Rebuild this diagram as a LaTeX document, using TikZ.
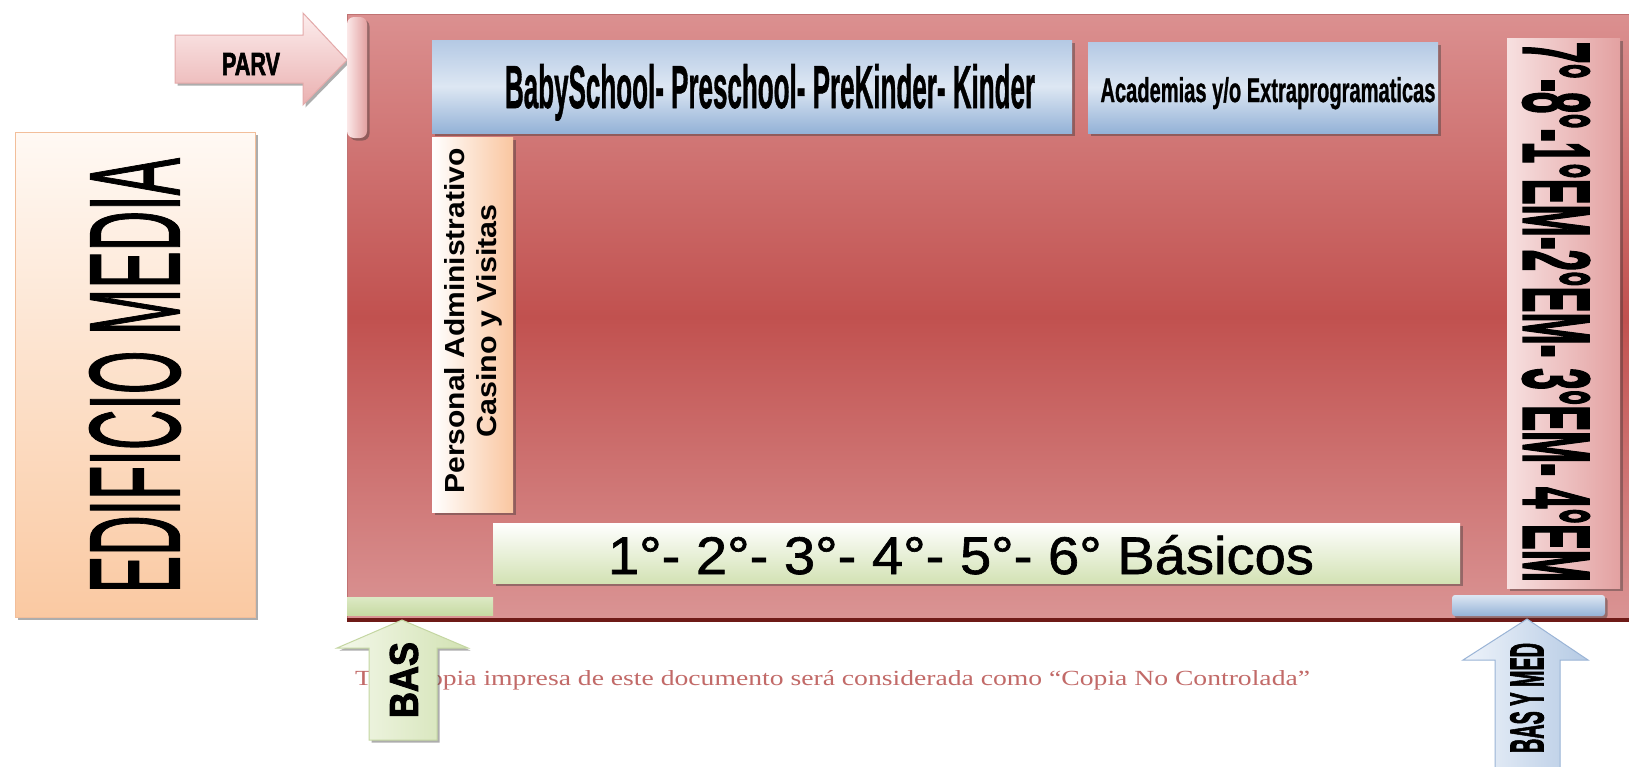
\documentclass[tikz,border=0pt]{standalone}
\usepackage{fontspec}
\setmainfont{Liberation Sans}
\newfontfamily\footserif{Liberation Serif}
\newfontfamily\heavy[FakeBold=2.5]{Liberation Sans Bold}
\newfontfamily\semib[FakeBold=1.2]{Liberation Sans Bold}
\newfontfamily\regb[FakeBold=1.2]{Liberation Sans}
\usepackage{graphicx}
\usetikzlibrary{shadows}
\newcommand{\fitt}[3]{\resizebox{#1pt}{#2pt}{#3}}
\definecolor{mtop}{HTML}{DB9090}
\definecolor{mmid}{HTML}{C1514F}
\definecolor{mbot}{HTML}{DA9494}
\definecolor{mrim}{HTML}{C07272}
\definecolor{dred}{HTML}{6E1A17}
\definecolor{peachl}{HTML}{FFF9F4}
\definecolor{peach}{HTML}{FAC9A2}
\definecolor{peache}{HTML}{F2BE9A}
\definecolor{peach2}{HTML}{FAC6A0}
\definecolor{pinkl}{HTML}{FCEDED}
\definecolor{pinkd}{HTML}{EAB0B0}
\definecolor{parvline}{HTML}{E4AAAA}
\definecolor{scrl}{HTML}{FBE8E8}
\definecolor{scrd}{HTML}{E2A0A0}
\definecolor{bluet}{HTML}{B4C9E4}
\definecolor{bluem}{HTML}{DDE7F3}
\definecolor{blueb}{HTML}{94B2D7}
\definecolor{greenb}{HTML}{D3E2B4}
\definecolor{rbl}{HTML}{F7E0E0}
\definecolor{rbd}{HTML}{E3A1A1}
\definecolor{gbarA}{HTML}{DCE9C5}
\definecolor{gbarB}{HTML}{C7DAA2}
\definecolor{footc}{HTML}{C26A68}
\definecolor{gl}{HTML}{F4F8EA}
\definecolor{gd}{HTML}{D2E2B3}
\definecolor{gline}{HTML}{C4D6A2}
\definecolor{bl}{HTML}{EEF3FA}
\definecolor{bd}{HTML}{B5CAE4}
\definecolor{bline}{HTML}{9AB4D6}
\begin{document}
\begin{tikzpicture}[x=1pt,y=-1pt,
  lbl/.style={inner sep=0pt, outer sep=0pt, text=black},
  boxshadow/.style={drop shadow={shadow xshift=2.5pt,shadow yshift=-2.5pt,opacity=0.4,fill=black!80}},
  box/.style={rectangle, inner sep=0pt, outer sep=0pt},
]
\useasboundingbox (0,0) rectangle (1629,766);
\fill[white] (0,0) rectangle (1629,766);

% EDIFICIO MEDIA
\node[box, minimum width=240pt, minimum height=485pt, top color=peachl, bottom color=peach, draw=peache, line width=1pt, boxshadow] (edif) at (135,374.5) {};
\node[lbl, rotate=90] (ediflbl) at (135,375.5) {\fitt{435}{90}{\regb EDIFICIO MEDIA}};

% main area
\node[box, minimum width=1293pt, minimum height=606pt, top color=mtop, bottom color=mbot, middle color=mmid] (main) at (993.5,317) {};
\draw[mrim, line width=1pt] (main.south west) -- (main.north west) -- (main.north east);
\draw[dred, line width=3.5pt] (main.south west) -- (main.south east);

% PARV arrow
\path[draw=parvline, line width=1pt, top color=pinkl, bottom color=pinkd, boxshadow]
  (175,35) -- (303,35) -- (303,13) -- (347,60) -- (303,105) -- (303,83) -- (175,83) -- cycle;
\node[lbl] (parv) at (251,64) {\fitt{58}{22}{\heavy PARV}};

% scroll bar
\node[box, minimum width=20pt, minimum height=121pt, rounded corners=7pt, left color=scrl, right color=scrd, boxshadow] (scroll) at (357,77.5) {};

% BabySchool
\node[box, minimum width=640pt, minimum height=93pt, top color=bluet, bottom color=blueb, middle color=bluem, boxshadow] (baby) at (752,86.5) {};
\node[lbl, anchor=base west] (babylbl) at (505,108) {\fitt{530}{44}{\semib BabySchool- Preschool- PreKinder- Kinder}};

% Academias
\node[box, minimum width=350pt, minimum height=91pt, top color=bluet, bottom color=blueb, middle color=bluem, boxshadow] (acad) at (1263,87.5) {};
\node[lbl, anchor=base] (acadlbl) at (1268,102) {\fitt{335}{25}{\semib Academias y/o Extraprogramaticas}};

% Personal
\node[box, minimum width=81pt, minimum height=375pt, left color=white, right color=peach2, boxshadow] (pers) at (472.5,324.5) {};
\node[lbl, rotate=90] (persA) at (455,321) {\fitt{345}{20}{\bfseries Personal Administrativo}};
\node[lbl, rotate=90] (persB) at (489,321) {\fitt{233}{20}{\bfseries Casino y Visitas}};

% Basicos
\node[box, minimum width=967pt, minimum height=60pt, top color=white, bottom color=greenb, boxshadow] (basbox) at (976.5,553) {};
\node[lbl, anchor=base] (baslbl) at (961,574) {\fitt{706}{39}{\regb 1°- 2°- 3°- 4°- 5°- 6° Básicos}};

% grades box
\node[box, minimum width=113pt, minimum height=550pt, left color=rbl, right color=rbd, boxshadow] (grades) at (1563.5,313) {};
\node[lbl, rotate=-90] (gradeslbl) at (1556,312) {\fitt{540}{66}{\heavy 7°-8°-1°EM-2°EM- 3°EM- 4°EM}};

% bottom bars
\node[box, minimum width=146pt, minimum height=18pt, top color=gbarA, bottom color=gbarB] (gbar) at (420,606) {};
\node[box, minimum width=153pt, minimum height=21pt, rounded corners=3pt, top color=bluem, bottom color=blueb, boxshadow] (bbar) at (1528.5,605.5) {};

% footer
\node[lbl, text=footc] (footer) at (832.5,680) {\fitt{955}{15}{\footserif Toda copia impresa de este documento será considerada como “Copia No Controlada”}};

% BAS arrow
\path[draw=gline, line width=1pt, left color=gl, right color=gd, boxshadow]
  (369,740) -- (369,648) -- (337,648) -- (402,620) -- (468,648) -- (437,648) -- (437,740) -- cycle;
\node[lbl, rotate=90] (baslbl2) at (404,680) {\fitt{76}{28}{\heavy BAS}};

% BAS Y MED arrow
\path[draw=bline, line width=1pt, left color=bl, right color=bd]
  (1495,775) -- (1495,660) -- (1463,660) -- (1527,619) -- (1588,660) -- (1560,660) -- (1560,775) -- cycle;
\node[lbl, rotate=90] (bymlbl) at (1527,698) {\fitt{110}{33}{\heavy BAS Y MED}};
\end{tikzpicture}
\end{document}
